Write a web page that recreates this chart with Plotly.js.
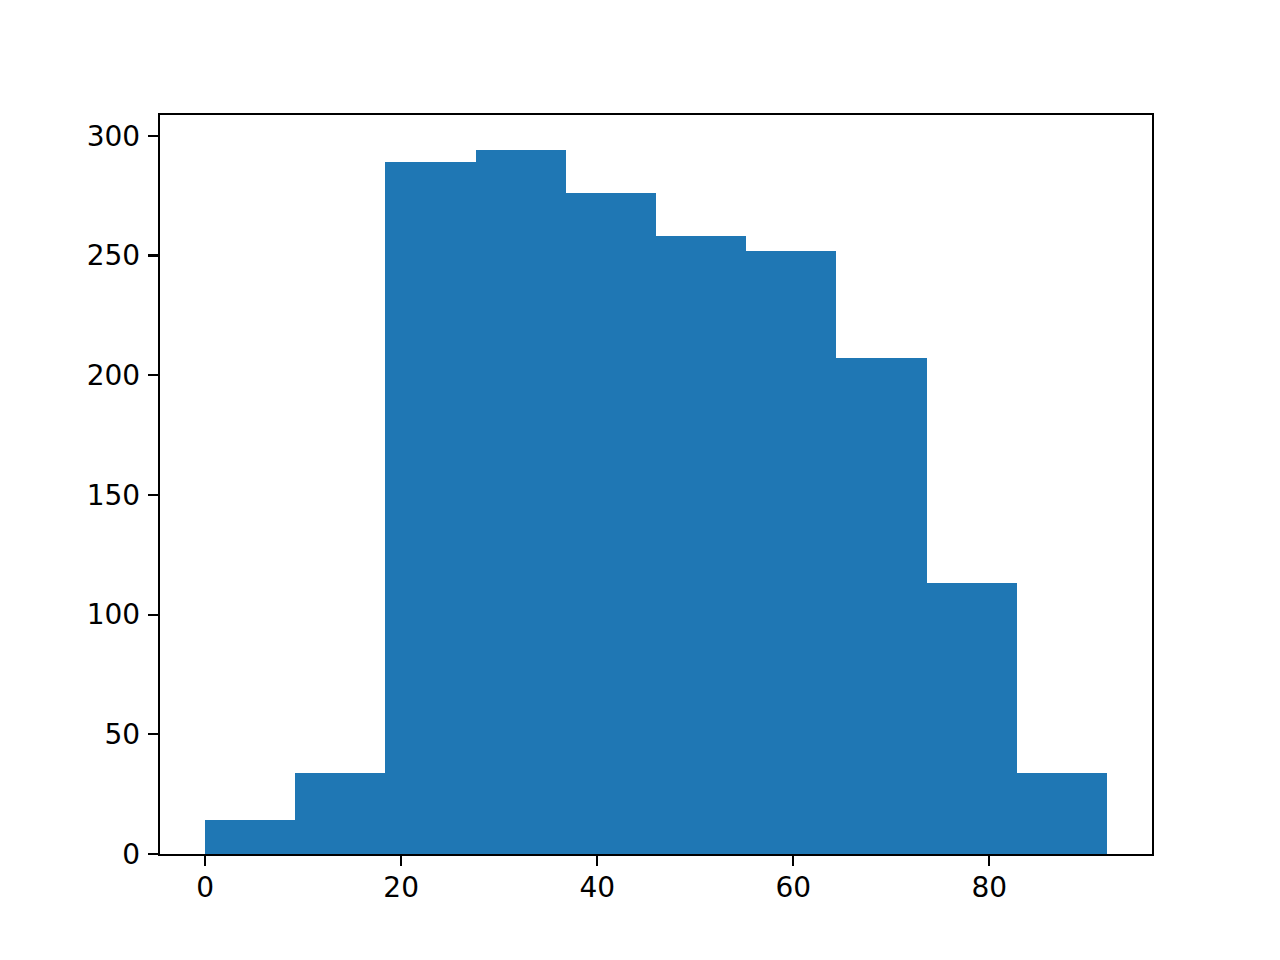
<!DOCTYPE html>
<html>
<head>
<meta charset="utf-8">
<script src="https://cdn.plot.ly/plotly-3.0.1.min.js"></script>
<style>html,body{margin:0;padding:0;background:#fff;}#chart{width:1280px;height:960px;}</style>
</head>
<body>
<div id="chart"></div>
<script>
const binEdges = [0, 9.2, 18.4, 27.6, 36.8, 46.0, 55.2, 64.4, 73.6, 82.8, 92.0];
const counts = [14, 34, 289, 294, 276, 258, 252, 207, 113, 34];
const xTicks = [0, 20, 40, 60, 80];
const yTicks = [0, 50, 100, 150, 200, 250, 300];

const centers = counts.map((_, i) => (binEdges[i] + binEdges[i + 1]) / 2);
const widths = counts.map((_, i) => binEdges[i + 1] - binEdges[i]);
const lo = binEdges[0], hi = binEdges[binEdges.length - 1];
const pad = (hi - lo) * 0.05;
const ymax = Math.max(...counts) * 1.05;

const axisCommon = {
  showline: true, mirror: true, linecolor: '#000', linewidth: 2.2,
  ticks: 'outside', ticklen: 10, tickwidth: 2.2, tickcolor: '#000',
  showgrid: false, zeroline: false,
  tickfont: {family: 'DejaVu Sans', size: 28, color: '#000'}
};

Plotly.newPlot('chart', [{
  type: 'bar', x: centers, y: counts, width: widths,
  marker: {color: '#1f77b4', line: {width: 0}},
  hoverinfo: 'skip'
}], {
  width: 1280, height: 960,
  margin: {l: 160, r: 128, t: 115, b: 106},
  paper_bgcolor: '#fff', plot_bgcolor: '#fff',
  showlegend: false, bargap: 0,
  xaxis: Object.assign({}, axisCommon, {range: [lo - pad, hi + pad], tickvals: xTicks, ticktext: xTicks.map(String), ticklabelstandoff: -3}),
  yaxis: Object.assign({}, axisCommon, {range: [0, ymax], tickvals: yTicks, ticktext: yTicks.map(String), ticklabelstandoff: 2})
}, {displayModeBar: false, staticPlot: true});
</script>
</body>
</html>
